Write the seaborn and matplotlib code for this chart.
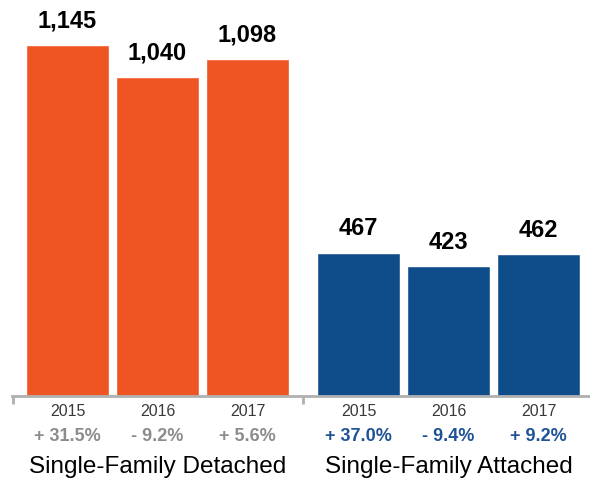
import matplotlib
matplotlib.use("Agg")
import matplotlib.pyplot as plt
import seaborn as sns
import pandas as pd
import numpy as np

sns.set_style("white")
plt.rcParams["font.family"] = ["Liberation Sans", "DejaVu Sans"]

# Data
groups = ["Single-Family Detached", "Single-Family Attached"]
years = ["2015", "2016", "2017"]
detached = [1145, 1040, 1098]
attached = [467, 423, 462]
detached_change = ["+ 31.5%", "- 9.2%", "+ 5.6%"]
attached_change = ["+ 37.0%", "- 9.4%", "+ 9.2%"]

orange = "#EF5423"
blue = "#0F4C8A"
change_colors = ["#8C8C8C", "#1F5396"]

group_gap = 1.233  # distance between the last bar of one group and the first of the next
pos = [0, 1, 2, 2 + group_gap, 3 + group_gap, 4 + group_gap]
vals = detached + attached
grp = [groups[0]] * 3 + [groups[1]] * 3
df = pd.DataFrame({"x": pos, "value": vals, "group": grp})

fig = plt.figure(figsize=(5.9, 4.84), dpi=100)
ax = fig.add_axes([12 / 590, 1 - 396 / 484, 578 / 590, 396 / 484])

sns.barplot(data=df, x="x", y="value", hue="group", native_scale=True,
            palette=[orange, blue], width=83 / 90, dodge=False,
            legend=False, ax=ax, saturation=1)

ax.set_xlim(-55.5 / 90, (590 - 67.5) / 90)
ax.set_ylim(0, 1291)
ax.set_xlabel("")
ax.set_ylabel("")
ax.set_yticks([])

for side in ["top", "right", "left"]:
    ax.spines[side].set_visible(False)
ax.spines["bottom"].set_color("#B0B0B0")
ax.spines["bottom"].set_linewidth(2)

sep = 2 + group_gap / 2
ax.set_xticks([-55.5 / 90 + 0.01, sep])
ax.set_xticklabels([])
ax.tick_params(axis="x", bottom=True, direction="out", length=6, width=2,
               color="#B0B0B0")

changes = detached_change + attached_change
for k, (x, v) in enumerate(zip(pos, vals)):
    ax.text(x, v + 40, f"{v:,}", ha="center", va="bottom",
            fontsize=17, fontweight="bold", color="black")
    ax.text(x, -25, years[k % 3], ha="center", va="top",
            fontsize=11.5, color="#3A3A3A")
    ax.text(x, -103, changes[k], ha="center", va="top",
            fontsize=13, fontweight="bold", color=change_colors[k // 3])

for g in range(2):
    center = np.mean(pos[g * 3:(g + 1) * 3])
    ax.text(center, -195, groups[g], ha="center", va="top",
            fontsize=17.5, color="black")

fig.savefig("out.png", dpi=100)
